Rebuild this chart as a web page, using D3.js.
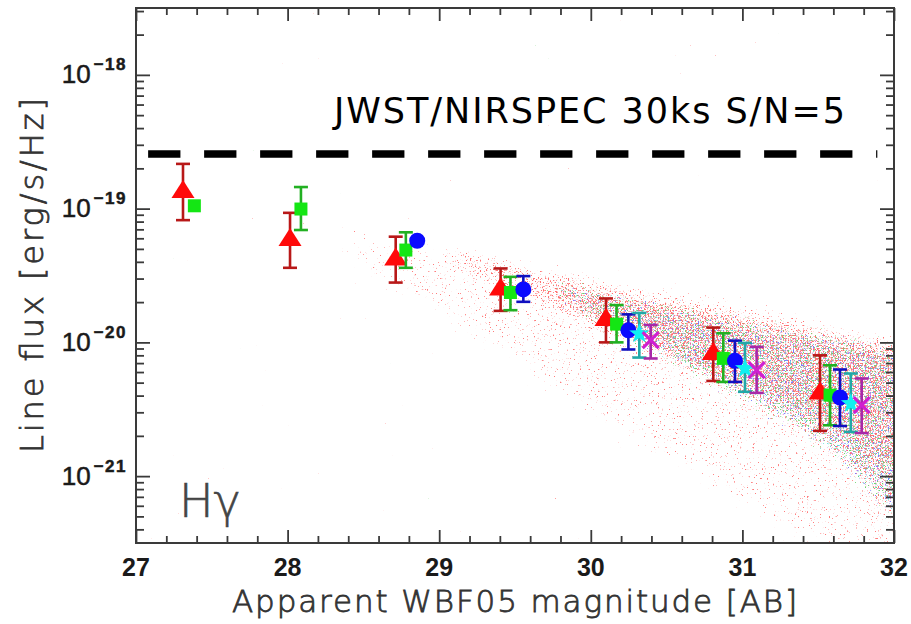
<!DOCTYPE html>
<html>
<head>
<meta charset="utf-8">
<script src="https://cdn.jsdelivr.net/npm/d3@7"></script>
<style>
  html, body { margin: 0; padding: 0; background: #fff; }
  svg { display: block; }
</style>
</head>
<body>
<script>
// ---- data -------------------------------------------------------------
const xTicksMajor = [27, 28, 29, 30, 31, 32];
const yDecades = [-18, -19, -20, -21];

// Hγ line-flux detections: magnitude, flux, upper and lower error
const redMag   = [27.31, 28.016, 28.713, 29.405, 30.10, 30.808, 31.512];
const redFlux  = [1.33e-19, 5.82e-20, 4.16e-20, 2.48e-20, 1.47e-20, 8.17e-21, 4.14e-21];
const redHi    = [2.16e-19, 9.3e-20, 6.17e-20, 3.57e-20, 2.13e-20, 1.29e-20, 8.0e-21];
const redLo    = [8.2e-20, 3.61e-20, 2.8e-20, 1.72e-20, 1.0e-20, 5.15e-21, 2.18e-21];

const greenMag  = [27.385, 28.088, 28.78, 29.47, 30.17, 30.874, 31.578];
const greenFlux = [1.05e-19, 9.93e-20, 4.9e-20, 2.36e-20, 1.37e-20, 7.59e-21, 4.03e-21];
const greenHi   = [null, 1.45e-19, 6.65e-20, 3.09e-20, 1.9e-20, 1.17e-20, 6.74e-21];
const greenLo   = [null, 6.92e-20, 3.61e-20, 1.74e-20, 1.0e-20, 5.06e-21, 2.4e-21];

const blueMag  = [28.855, 29.555, 30.248, 30.951, 31.644];
const blueFlux = [5.75e-20, 2.49e-20, 1.23e-20, 7.28e-21, 3.87e-21];
const blueHi   = [null, 3.13e-20, 1.62e-20, 1.03e-20, 6.27e-21];
const blueLo   = [null, 2.01e-20, 8.85e-21, 5.06e-21, 2.37e-21];

const cyanMag  = [30.32, 31.017, 31.715];
const cyanFlux = [1.16e-20, 6.38e-21, 3.49e-21];
const cyanHi   = [1.66e-20, 9.9e-21, 5.85e-21];
const cyanLo   = [7.7e-21, 4.27e-21, 2.14e-21];

const magMag  = [30.395, 31.094, 31.787];
const magFlux = [1.04e-20, 6.2e-21, 3.39e-21];
const magHi   = [1.35e-20, 9.25e-21, 5.37e-21];
const magLo   = [7.58e-21, 4.19e-21, 2.1e-21];

// model galaxy cloud envelopes (magnitude, upper flux, lower flux);
// the last column lies just past the frame so the cloud runs off the edge
const haloMag   = [28.3, 28.8, 29.2, 29.6, 30.0, 30.5, 31.0, 31.5, 32.0, 32.3];
const haloUpper = [7.8e-20, 6.3e-20, 5.1e-20, 4.1e-20, 3.25e-20, 2.5e-20, 1.93e-20, 1.43e-20, 1.08e-20, 9.0e-21];
const haloLower = [4.0e-20, 1.9e-20, 9.5e-21, 4.8e-21, 2.5e-21, 1.15e-21, 5.2e-22, 2.5e-22, 2.0e-22, 2.0e-22];

const bandMag   = [29.0, 29.6, 30.2, 30.7, 31.2, 31.6, 32.0, 32.3];
const bandUpper = [5.2e-20, 3.8e-20, 2.7e-20, 2.15e-20, 1.66e-20, 1.31e-20, 1.05e-20, 9.0e-21];
const bandLower = [3.8e-20, 2.0e-20, 1.0e-20, 5.9e-21, 3.5e-21, 1.9e-21, 8.0e-22, 5.0e-22];

const coreMag   = [29.7, 30.2, 30.7, 31.2, 31.6, 32.0, 32.3];
const coreUpper = [3.1e-20, 2.35e-20, 1.8e-20, 1.4e-20, 1.17e-20, 1.0e-20, 8.8e-21];
const coreLower = [2.2e-20, 1.1e-20, 5.3e-21, 2.7e-21, 1.35e-21, 4.5e-22, 3.0e-22];

// JWST/NIRSpec 30 ks S/N=5 limit
const limitFlux = 2.56e-19;
const limitMag = [27.08, 31.89];

// ---- layout -----------------------------------------------------------
const W = 911, H = 624;
const L = 136, R = 894, T = 8, B = 543;

const x = d3.scaleLinear().domain([27, 32]).range([L, R]);
const y = d3.scaleLog().domain([Math.pow(10, -21.5), Math.pow(10, -17.5)]).range([B, T]);

const svg = d3.select("body").append("svg")
  .attr("width", W).attr("height", H)
  .attr("viewBox", `0 0 ${W} ${H}`);

svg.append("rect").attr("width", W).attr("height", H).attr("fill", "#fff");

const defs = svg.append("defs");
defs.append("clipPath").attr("id", "plotClip")
  .append("rect").attr("x", L).attr("y", T).attr("width", R - L).attr("height", B - T);

// speckle texture: noise thresholded inside a softened copy of the shape,
// so the specks thin out towards the envelope edges
function speckle(id, rgb, seed, thr, freq, soft) {
  const f = defs.append("filter").attr("id", id)
    .attr("filterUnits", "userSpaceOnUse")
    .attr("color-interpolation-filters", "sRGB")
    .attr("x", 0).attr("y", 0).attr("width", W + 100).attr("height", H + 100);
  f.append("feTurbulence").attr("type", "fractalNoise")
    .attr("baseFrequency", freq).attr("numOctaves", 2).attr("seed", seed).attr("result", "n");
  f.append("feColorMatrix").attr("in", "n").attr("type", "matrix")
    .attr("values", "0 0 0 0 0  0 0 0 0 0  0 0 0 0 0  1 0 0 0 0").attr("result", "na");
  f.append("feGaussianBlur").attr("in", "SourceAlpha").attr("stdDeviation", soft).attr("result", "m");
  f.append("feComposite").attr("in", "na").attr("in2", "m").attr("operator", "arithmetic")
    .attr("k1", 0).attr("k2", 1).attr("k3", 0.3).attr("k4", -0.3).attr("result", "s");
  const k = 10;
  f.append("feColorMatrix").attr("in", "s").attr("type", "matrix")
    .attr("values", `0 0 0 0 ${rgb[0]}  0 0 0 0 ${rgb[1]}  0 0 0 0 ${rgb[2]}  0 0 0 ${k} ${-k * thr}`);
}
speckle("spHalo", [1, 0.4, 0.4], 3, 0.68, 0.55, 14);
speckle("spBand", [1, 0.35, 0.35], 7, 0.56, 0.6, 9);
speckle("spGreen", [0.35, 0.8, 0.35], 11, 0.6, 0.6, 9);
speckle("spBlue", [0.4, 0.4, 1], 17, 0.63, 0.6, 9);
speckle("spCyan", [0.3, 0.85, 0.85], 23, 0.66, 0.6, 9);
speckle("spMag", [0.85, 0.35, 0.85], 29, 0.66, 0.6, 9);
speckle("spRedCore", [1, 0.35, 0.35], 31, 0.6, 0.6, 9);

const plot = svg.append("g").attr("clip-path", "url(#plotClip)");

function envelope(mag, up, lo) {
  return d3.area()
    .curve(d3.curveCatmullRom)
    .x((d, i) => x(mag[i]))
    .y0((d, i) => y(lo[i]))
    .y1((d, i) => y(up[i]))(mag);
}
const cloud = plot.append("g").attr("opacity", 0.85);
cloud.append("path").attr("d", envelope(haloMag, haloUpper, haloLower))
  .attr("fill", "#000").attr("filter", "url(#spHalo)");
cloud.append("path").attr("d", envelope(bandMag, bandUpper, bandLower))
  .attr("fill", "#000").attr("filter", "url(#spBand)");
["spGreen", "spBlue", "spCyan", "spMag", "spRedCore"].forEach(id => {
  cloud.append("path").attr("d", envelope(coreMag, coreUpper, coreLower))
    .attr("fill", "#000").attr("filter", `url(#${id})`);
});

// detection limit
plot.append("line")
  .attr("x1", x(limitMag[0])).attr("x2", x(limitMag[1]))
  .attr("y1", y(limitFlux)).attr("y2", y(limitFlux))
  .attr("stroke", "#000").attr("stroke-width", 7.5)
  .attr("stroke-dasharray", "32.3,23.7");

// ---- measured points --------------------------------------------------
const series = [
  { mag: redMag, flux: redFlux, hi: redHi, lo: redLo, fill: "#ff0a0a", bar: "#b81818", shape: "triangle" },
  { mag: greenMag, flux: greenFlux, hi: greenHi, lo: greenLo, fill: "#14e614", bar: "#22b022", shape: "square" },
  { mag: blueMag, flux: blueFlux, hi: blueHi, lo: blueLo, fill: "#0a0aff", bar: "#1010c0", shape: "circle" },
  { mag: cyanMag, flux: cyanFlux, hi: cyanHi, lo: cyanLo, fill: "#10f0f0", bar: "#22a8a8", shape: "star" },
  { mag: magMag, flux: magFlux, hi: magHi, lo: magLo, fill: "#d020d0", bar: "#a828a8", shape: "cross" }
];

const triShape = { draw(ctx) { const w = 11.5, h = 18; ctx.moveTo(0, -h * 2 / 3); ctx.lineTo(w, h / 3); ctx.lineTo(-w, h / 3); ctx.closePath(); } };
const sqShape = { draw(ctx) { const a = 6.5; ctx.rect(-a, -a, 2 * a, 2 * a); } };
const circShape = { draw(ctx) { ctx.moveTo(8, 0); ctx.arc(0, 0, 8, 0, 2 * Math.PI); } };
const starShape = { draw(ctx) {
  const ro = 10.5, ri = 4.3;
  for (let i = 0; i < 10; i++) {
    const r = i % 2 ? ri : ro, a = -Math.PI / 2 + i * Math.PI / 5;
    if (i === 0) ctx.moveTo(r * Math.cos(a), r * Math.sin(a)); else ctx.lineTo(r * Math.cos(a), r * Math.sin(a));
  }
  ctx.closePath();
} };
const crossShape = { draw(ctx) { const a = 8; ctx.moveTo(-a, -a); ctx.lineTo(a, a); ctx.moveTo(-a, a); ctx.lineTo(a, -a); } };
const shapes = { triangle: triShape, square: sqShape, circle: circShape, star: starShape, cross: crossShape };

const pts = svg.append("g");
series.forEach(s => {
  const g = pts.append("g");
  const idx = d3.range(s.mag.length);
  const eb = idx.filter(i => s.hi[i] != null);
  const cap = 7;
  g.selectAll("line.v").data(eb).join("line").attr("class", "v")
    .attr("x1", i => x(s.mag[i])).attr("x2", i => x(s.mag[i]))
    .attr("y1", i => y(s.hi[i])).attr("y2", i => y(s.lo[i]))
    .attr("stroke", s.bar).attr("stroke-width", 2.6);
  ["hi", "lo"].forEach(k => {
    g.selectAll("line." + k).data(eb).join("line").attr("class", k)
      .attr("x1", i => x(s.mag[i]) - cap).attr("x2", i => x(s.mag[i]) + cap)
      .attr("y1", i => y(s[k][i])).attr("y2", i => y(s[k][i]))
      .attr("stroke", s.bar).attr("stroke-width", 2.6);
  });
  const sym = d3.symbol().type(shapes[s.shape]);
  g.selectAll("path.m").data(idx).join("path").attr("class", "m")
    .attr("transform", i => `translate(${x(s.mag[i])},${y(s.flux[i])})`)
    .attr("d", sym)
    .attr("fill", s.shape === "cross" ? "none" : s.fill)
    .attr("stroke", s.shape === "cross" ? s.fill : "none")
    .attr("stroke-width", 3.2);
});

// ---- axes -------------------------------------------------------------
const axisColor = "#3a3a3a";
const xMinor = d3.range(27, 32.001, 0.2).map(v => +v.toFixed(1)).filter(v => !xTicksMajor.includes(v));
const yAll = y.ticks();
const yMajor = yDecades.map(e => Math.pow(10, e));
const yMinor = yAll.filter(v => !yMajor.some(m => Math.abs(Math.log10(v) - Math.log10(m)) < 1e-6));

function styleAxis(g) {
  g.select(".domain").remove();
  g.selectAll("line").attr("stroke", axisColor).attr("stroke-width", 1.8);
  g.selectAll("text").remove();
}
svg.append("g").attr("transform", `translate(0,${B})`).call(d3.axisBottom(x).tickValues(xTicksMajor).tickSize(-13)).call(styleAxis);
svg.append("g").attr("transform", `translate(0,${B})`).call(d3.axisBottom(x).tickValues(xMinor).tickSize(-7)).call(styleAxis);
svg.append("g").attr("transform", `translate(0,${T})`).call(d3.axisTop(x).tickValues(xTicksMajor).tickSize(-13)).call(styleAxis);
svg.append("g").attr("transform", `translate(0,${T})`).call(d3.axisTop(x).tickValues(xMinor).tickSize(-7)).call(styleAxis);
svg.append("g").attr("transform", `translate(${L},0)`).call(d3.axisLeft(y).tickValues(yMajor).tickSize(-14)).call(styleAxis);
svg.append("g").attr("transform", `translate(${L},0)`).call(d3.axisLeft(y).tickValues(yMinor).tickSize(-8)).call(styleAxis);
svg.append("g").attr("transform", `translate(${R},0)`).call(d3.axisRight(y).tickValues(yMajor).tickSize(-14)).call(styleAxis);
svg.append("g").attr("transform", `translate(${R},0)`).call(d3.axisRight(y).tickValues(yMinor).tickSize(-8)).call(styleAxis);

svg.append("rect").attr("x", L).attr("y", T).attr("width", R - L).attr("height", B - T)
  .attr("fill", "none").attr("stroke", axisColor).attr("stroke-width", 2);

// tick labels
const tickFont = "'Liberation Sans', Arial, sans-serif";
svg.append("g").selectAll("text").data(xTicksMajor).join("text")
  .attr("x", d => x(d)).attr("y", 576)
  .attr("text-anchor", "middle")
  .attr("font-family", tickFont).attr("font-weight", "bold").attr("font-size", 25)
  .attr("fill", "#1a1a1a")
  .text(d => d);

const yl = svg.append("g").selectAll("text").data(yDecades).join("text")
  .attr("x", 127).attr("y", d => y(Math.pow(10, d)) + 8.5)
  .attr("text-anchor", "end")
  .attr("font-family", tickFont).attr("font-size", 26).attr("fill", "#1a1a1a")
  .attr("stroke", "#1a1a1a").attr("stroke-width", 0.5);
yl.append("tspan").text("10");
yl.append("tspan").attr("dy", -13).attr("dx", 3).attr("font-size", 17).attr("font-weight", "bold")
  .attr("letter-spacing", 1.5)
  .text(d => "\u2212" + Math.abs(d));

// titles
const titleFont = "'DejaVu Sans', sans-serif";
svg.append("text")
  .attr("x", 232).attr("y", 612)
  .attr("font-family", titleFont).attr("font-weight", 200).attr("font-size", 31)
  .attr("fill", "#333").attr("stroke", "#333").attr("stroke-width", 0.8)
  .attr("textLength", 565).attr("lengthAdjust", "spacing")
  .text("Apparent WBF05 magnitude [AB]");

svg.append("text")
  .attr("transform", "translate(43,453) rotate(-90)")
  .attr("font-family", titleFont).attr("font-weight", 200).attr("font-size", 32)
  .attr("fill", "#333").attr("stroke", "#333").attr("stroke-width", 0.8)
  .attr("textLength", 355).attr("lengthAdjust", "spacing")
  .text("Line flux [erg/s/Hz]");

svg.append("text")
  .attr("x", 334).attr("y", 123)
  .attr("font-family", titleFont).attr("font-size", 35)
  .attr("fill", "#000")
  .attr("textLength", 511).attr("lengthAdjust", "spacing")
  .text("JWST/NIRSPEC 30ks S/N=5");

svg.append("text")
  .attr("x", 179).attr("y", 517)
  .attr("font-family", titleFont).attr("font-weight", 200).attr("font-size", 46)
  .attr("fill", "#444").attr("stroke", "#444").attr("stroke-width", 0.6)
  .text("H\u03b3");
</script>
</body>
</html>
